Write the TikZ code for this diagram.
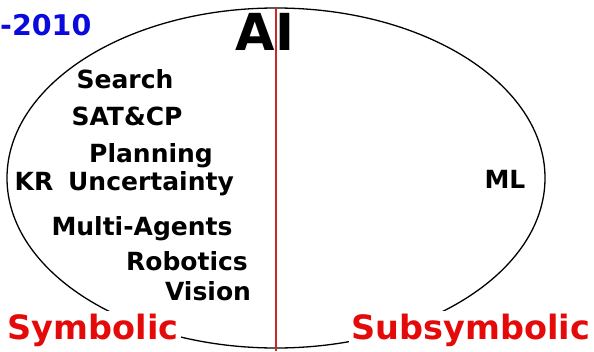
\documentclass[tikz,border=0pt]{standalone}
\usepackage{fontspec}
\setmainfont{DejaVu Sans}
\definecolor{topicred}{RGB}{228,10,10}
\definecolor{lineRed}{RGB}{200,40,40}
\definecolor{yearblue}{RGB}{10,10,220}
\begin{document}
\begin{tikzpicture}[x=1pt,y=-1pt,
  topic/.style={anchor=base,inner sep=0pt,font=\fontsize{25}{28}\selectfont\bfseries},
  side/.style={anchor=base,fill=white,inner sep=3pt,text=topicred,font=\fontsize{33.5}{36}\selectfont\bfseries}]
\useasboundingbox (0,0) rectangle (594,351);
\draw[line width=1.3pt] (276,178) ellipse [x radius=269, y radius=170];
\node[anchor=base,inner sep=0pt,font=\fontsize{51}{54}\selectfont\bfseries] (ai) at (265,50) {AI};
\node[anchor=base west,inner sep=0pt,text=yearblue,font=\fontsize{28.5}{30}\selectfont\bfseries] (year) at (0,35) {-2010};
\node[topic] (search) at (125,88) {Search};
\node[topic] (sat) at (127,125) {SAT\&CP};
\node[topic] (plan) at (151,162) {Planning};
\node[topic] (kr) at (34,190) {KR};
\node[topic] (unc) at (151,190) {Uncertainty};
\node[topic] (multi) at (142,235) {Multi-Agents};
\node[topic] (rob) at (187,270) {Robotics};
\node[topic] (vis) at (208,300) {Vision};
\node[topic] (ml) at (505,188) {ML};
\node[side] (sym) at (93,339) {Symbolic};
\node[side] (subsym) at (471,339) {Subsymbolic};
\coordinate (ltop) at (276,8);
\coordinate (lbot) at (276,351);
\draw[lineRed,line width=1.4pt] (ltop) -- (lbot);
\end{tikzpicture}
\end{document}
